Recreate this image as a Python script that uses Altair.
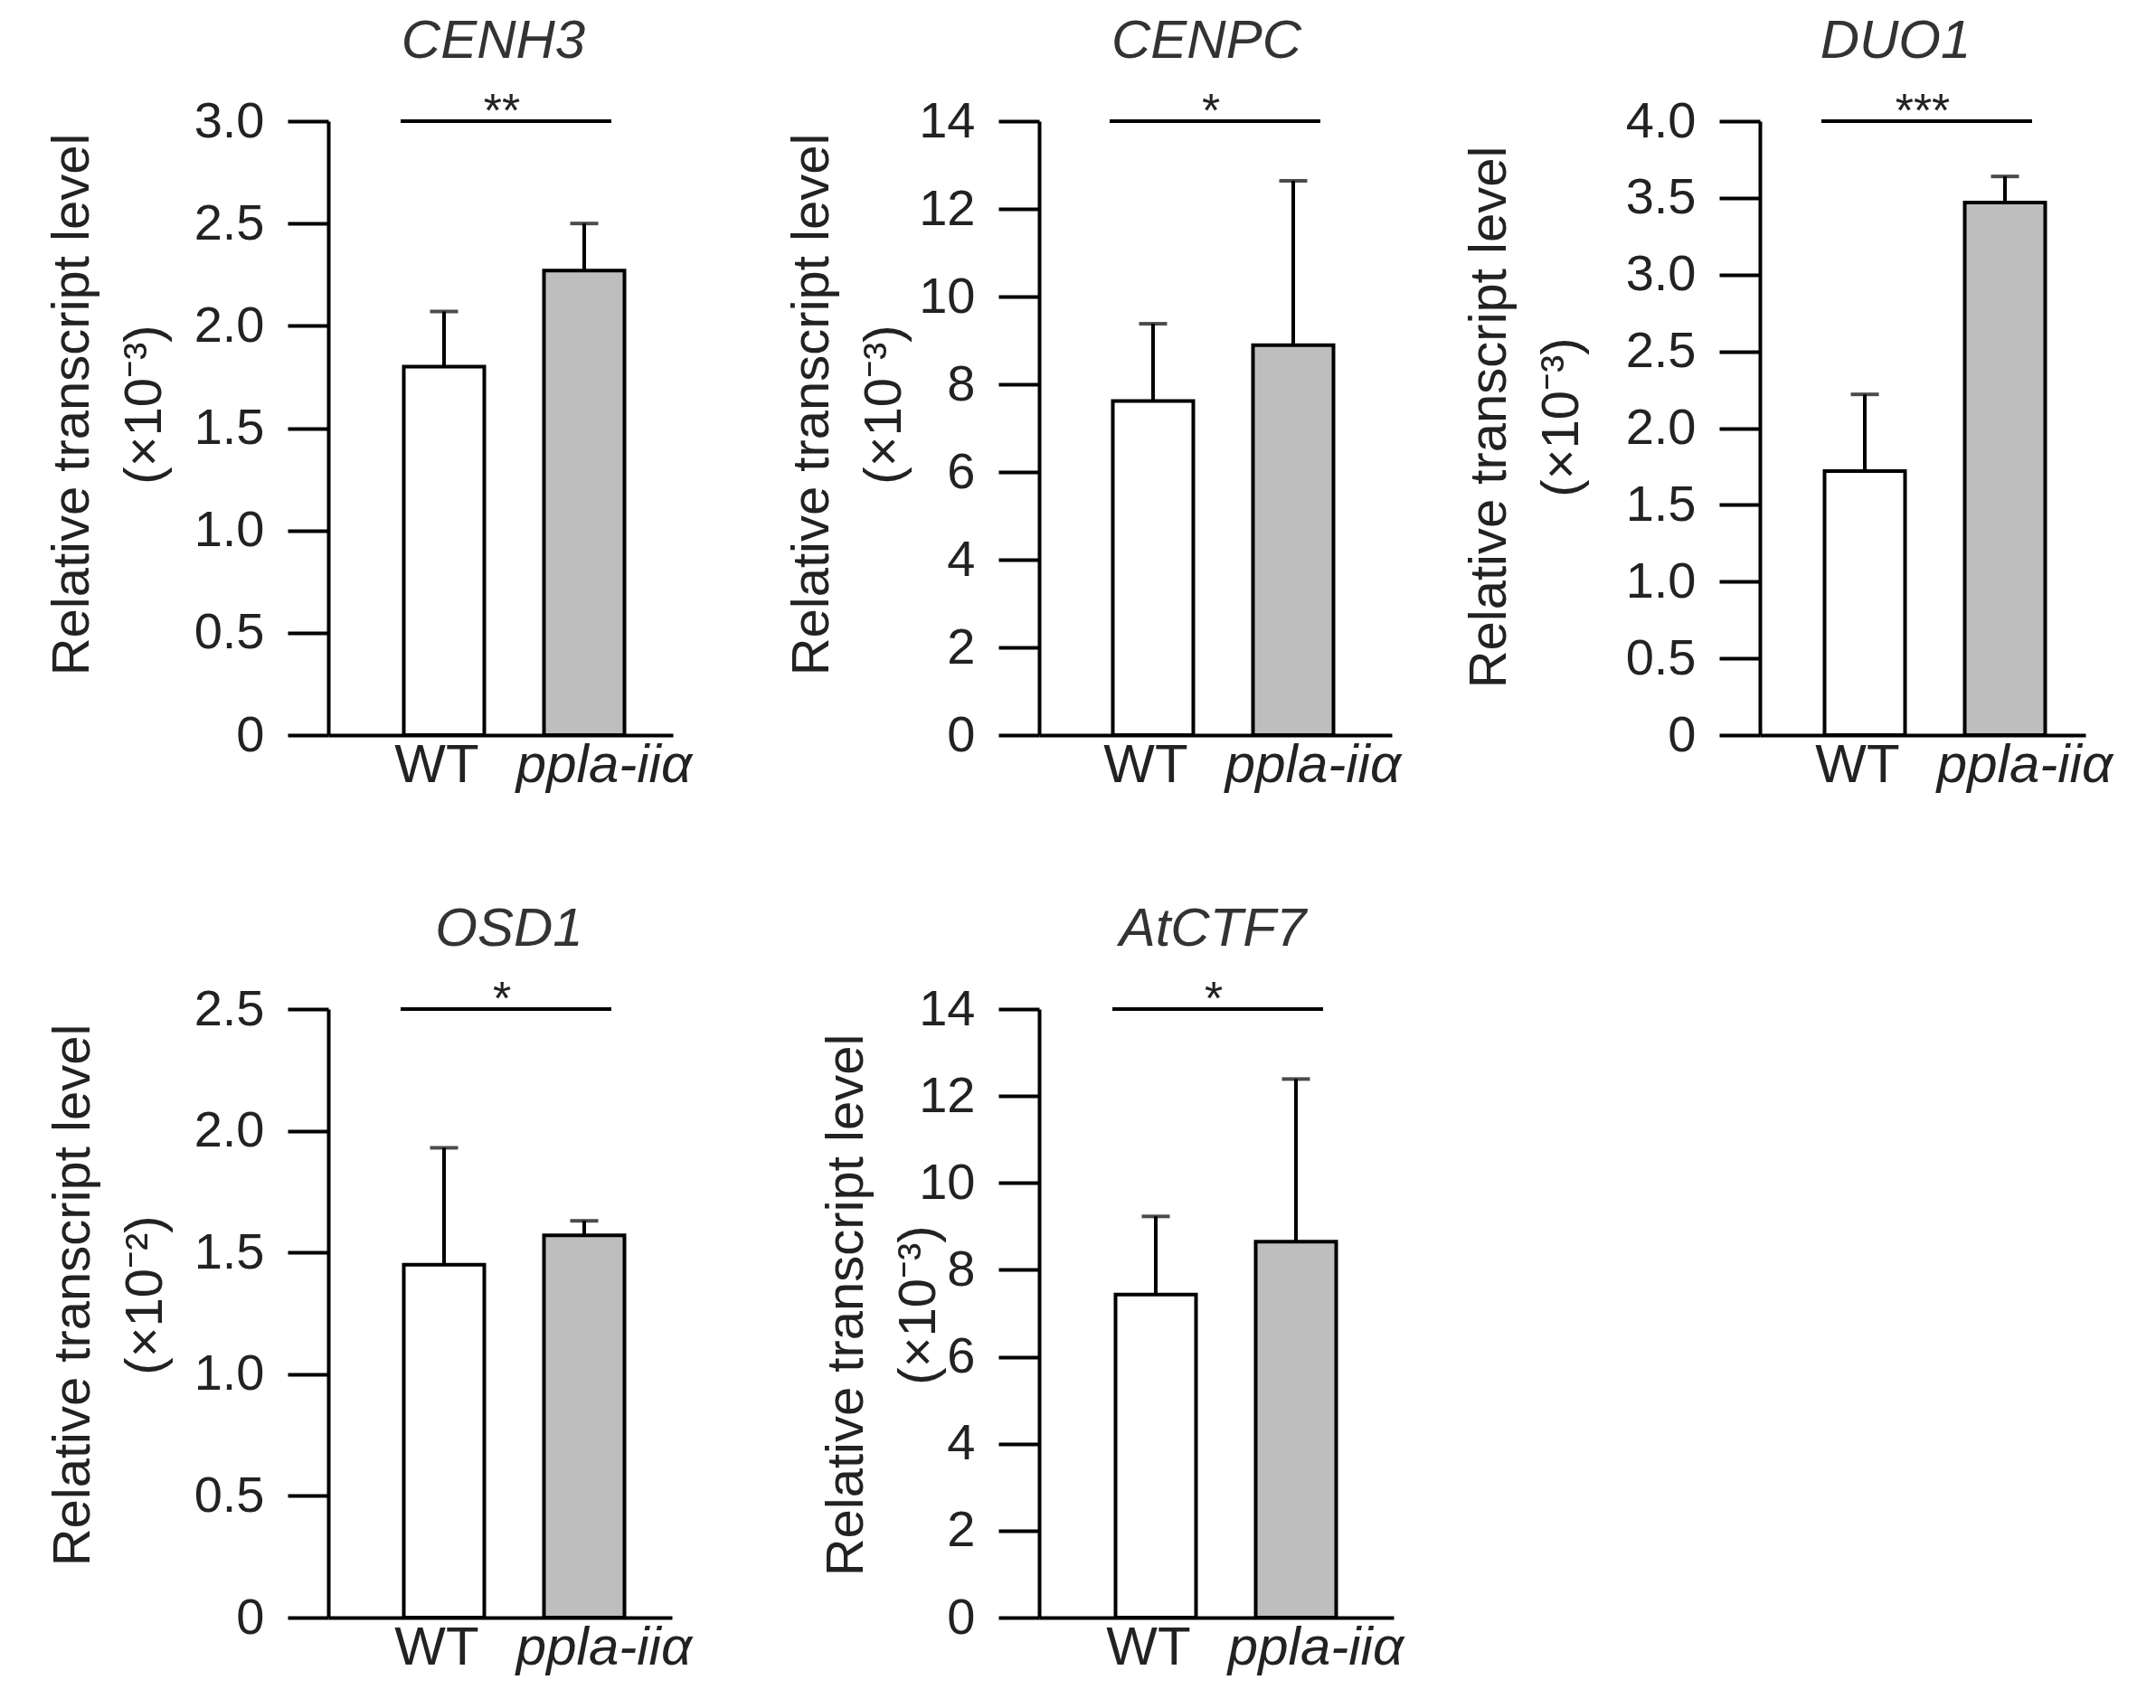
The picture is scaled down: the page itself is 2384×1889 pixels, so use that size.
import altair as alt
import pandas as pd

# ---------------- data ----------------
genes = ["CENH3", "CENPC", "DUO1", "OSD1", "AtCTF7"]
groups = ["WT", "ppla-iiα"]
wt_mean = [1.80, 7.62, 1.72, 1.45, 7.43]
wt_sd = [0.27, 1.76, 0.50, 0.48, 1.80]
mut_mean = [2.27, 8.89, 3.47, 1.57, 8.65]
mut_sd = [0.23, 3.75, 0.17, 0.06, 3.74]
y_max = [3.0, 14, 4.0, 2.5, 14]
y_ticks = [
    [0, 0.5, 1.0, 1.5, 2.0, 2.5, 3.0],
    [0, 2, 4, 6, 8, 10, 12, 14],
    [0, 0.5, 1.0, 1.5, 2.0, 2.5, 3.0, 3.5, 4.0],
    [0, 0.5, 1.0, 1.5, 2.0, 2.5],
    [0, 2, 4, 6, 8, 10, 12, 14],
]
y_decimals = [1, 0, 1, 1, 0]
y_unit = ["(×10⁻³)", "(×10⁻³)", "(×10⁻³)", "(×10⁻²)", "(×10⁻³)"]
y_label = "Relative  transcript level"
significance = ["**", "*", "***", "*", "*"]

# ---------------- layout / style ----------------
FONT = "Liberation Sans"
TXT = "#222222"
widths = [381, 390, 360, 380, 392]
heights = [679, 679, 679, 673, 673]
center0 = [128, 126, 116, 128, 129]
title_x = [283, 251, 299, 282, 213]
title_y = [313, 313, 327, 316, 327]
title_dx = [-8, -10, -30, 10, -4]
STEP = 155
BAND = 89


def panel(i):
    df = pd.DataFrame({
        "group": groups,
        "mean": [wt_mean[i], mut_mean[i]],
        "sd": [wt_sd[i], mut_sd[i]],
    })
    df["top"] = df["mean"] + df["sd"]
    sig = pd.DataFrame({"x1": [groups[0]], "x2": [groups[1]], "y": [y_max[i]], "label": [significance[i]]})

    W = widths[i]
    H = heights[i]
    pi = 1 - BAND / STEP
    po = (W / STEP - (2 - pi)) / 2
    al = (center0[i] - BAND / 2) / (W - STEP * (2 - pi))
    xscale = alt.Scale(domain=groups, paddingInner=pi, paddingOuter=po, align=al)
    yscale = alt.Scale(domain=[0, y_max[i]], nice=False, zero=True)

    if y_decimals[i] == 1:
        lexpr = "datum.value == 0 ? '0' : format(datum.value, '.1f')"
    else:
        lexpr = "format(datum.value, 'd')"

    xaxis = alt.Axis(
        title=None, labelAngle=0, ticks=False, domain=True, domainWidth=4, domainColor="black",
        labelFont=FONT, labelFontSize=60, labelColor=TXT, labelPadding=4, labelLimit=600,
        labelFontStyle={"condition": {"test": "datum.value == 'WT'", "value": "normal"}, "value": "italic"},
        labelOffset={"condition": {"test": "datum.value == 'WT'", "value": -8}, "value": 22},
    )
    yaxis = alt.Axis(
        values=y_ticks[i], labelExpr=lexpr, grid=False,
        tickSize=45, tickWidth=4, tickColor="black", domainWidth=4, domainColor="black",
        labelFont=FONT, labelFontSize=56, labelColor=TXT, labelPadding=26,
        title=[y_label, y_unit[i]], titleFont=FONT, titleFontSize=58, titleFontWeight="normal",
        titleColor=TXT, titleX=-title_x[i], titleY=title_y[i], titleAngle=270,
        titleAlign="center", titleBaseline="middle", titleLineHeight=80,
    )

    base = alt.Chart(df)
    bars = base.mark_bar(stroke="black", strokeWidth=4).encode(
        x=alt.X("group:N", scale=xscale, axis=xaxis, sort=groups),
        y=alt.Y("mean:Q", scale=yscale, axis=yaxis),
        fill=alt.Fill("group:N", scale=alt.Scale(domain=groups, range=["white", "#bebebe"]), legend=None),
    )
    err = base.mark_rule(strokeWidth=4, color="black").encode(
        x=alt.X("group:N"), y=alt.Y("mean:Q"), y2="top:Q"
    )
    cap = base.mark_tick(size=31, thickness=4, color="black", orient="horizontal").encode(
        x=alt.X("group:N"), y=alt.Y("top:Q")
    )
    sig_line = alt.Chart(sig).mark_rule(strokeWidth=4, color="black", xOffset=-48, x2Offset=30).encode(
        x=alt.X("x1:N"), x2="x2:N", y=alt.Y("y:Q")
    )
    sig_text = alt.Chart(sig).mark_text(font=FONT, fontSize=52, color=TXT, baseline="alphabetic", dx=64, dy=6).encode(
        x=alt.X("x1:N"), y=alt.Y("y:Q"), text="label:N"
    )
    return alt.layer(bars, err, cap, sig_line, sig_text).properties(
        width=W, height=H,
        title=alt.TitleParams(
            genes[i], font=FONT, fontSize=60, fontStyle="italic", fontWeight="normal",
            color="#333333", anchor="middle", frame="group", baseline="alphabetic",
            offset=30, dy=56, dx=title_dx[i],
        ),
    )


chart = alt.concat(
    *[panel(i) for i in range(5)],
    columns=3,
    spacing={"row": 303, "column": 405},
    bounds="flush",
    align="each",
).properties(
    padding={"left": 51, "top": 16, "right": 5, "bottom": 5},
    background="white",
).configure_view(stroke=None)

chart.save("out.html", embed_options={"renderer": "svg", "actions": False})
